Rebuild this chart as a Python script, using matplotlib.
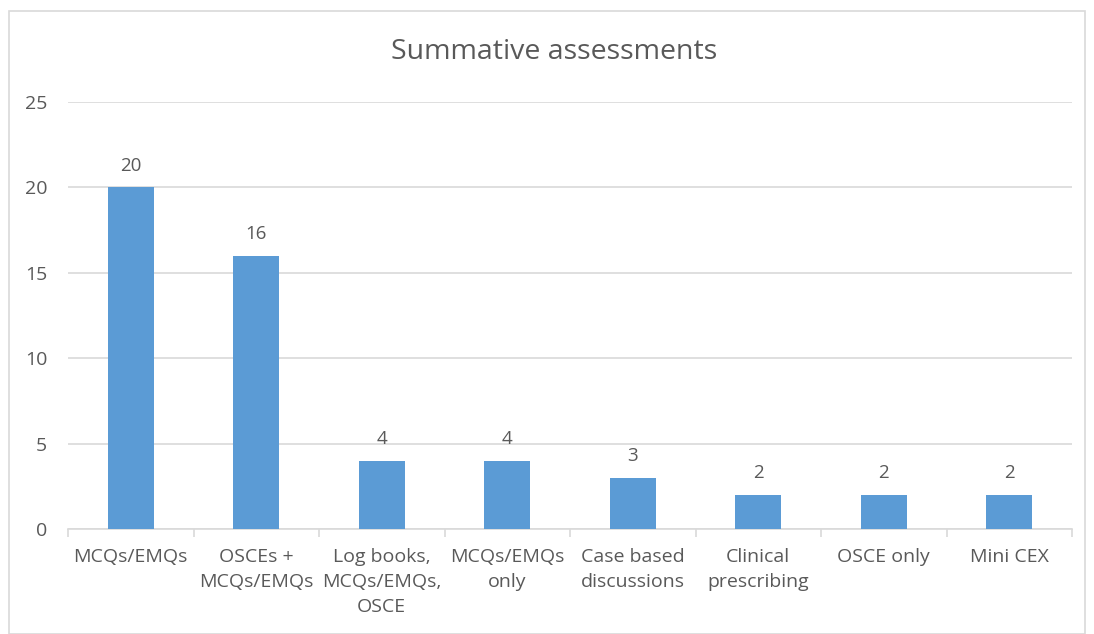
import matplotlib.pyplot as plt
import numpy as np
from matplotlib.patches import Rectangle

categories = [
    "MCQs/EMQs",
    "OSCEs +\nMCQs/EMQs",
    "Log books,\nMCQs/EMQs,\nOSCE",
    "MCQs/EMQs\nonly",
    "Case based\ndiscussions",
    "Clinical\nprescribing",
    "OSCE only",
    "Mini CEX",
]
counts = [20, 16, 4, 4, 3, 2, 2, 2]
y_ticks = [0, 5, 10, 15, 20, 25]

bar_color = "#5B9BD5"
text_color = "#595959"
grid_color = "#D9D9D9"

plt.rcParams["font.family"] = ["Open Sans", "DejaVu Sans"]

fig = plt.figure(figsize=(10.94, 6.34), dpi=100)
fig.patches.append(Rectangle((9 / 1094, 0), 1 - 18 / 1094, 1 - 11 / 634,
                             transform=fig.transFigure, fill=False,
                             edgecolor="#D9D9D9", linewidth=1.2))

ax = fig.add_axes([68 / 1094, 1 - 529 / 634, (1072 - 68) / 1094, (529 - 102) / 634])
x = np.arange(len(categories))
bars = ax.bar(x, counts, width=0.37, color=bar_color, zorder=3)

for b, v in zip(bars, counts):
    ax.annotate(str(v), (b.get_x() + b.get_width() / 2, v), xytext=(0, 9),
                textcoords="offset points", ha="center", va="bottom",
                fontsize=13.5, color=text_color)

ax.set_xlim(-0.5, len(categories) - 0.5)
ax.set_ylim(0, 25)
ax.set_yticks(y_ticks)
ax.yaxis.grid(True, color=grid_color, linewidth=1.2, zorder=0)
ax.set_axisbelow(True)

ax.set_xticks(x)
ax.set_xticklabels(categories, fontsize=14, color=text_color, linespacing=1.5, va="top")
ax.set_xticks(np.arange(len(categories) + 1) - 0.5, minor=True)
ax.tick_params(axis="x", which="major", length=0, pad=14)
ax.tick_params(axis="x", which="minor", length=6, color=grid_color, width=1.2)
ax.tick_params(axis="y", length=0, labelsize=14, labelcolor=text_color, pad=15)

for side in ["top", "right", "left"]:
    ax.spines[side].set_visible(False)
ax.spines["bottom"].set_color(grid_color)
ax.spines["bottom"].set_linewidth(1.2)

fig.text(554 / 1094, 1 - 52 / 634, "Summative assessments", ha="center", va="center",
         fontsize=20.5, color=text_color)

fig.savefig("out.png", dpi=100)
